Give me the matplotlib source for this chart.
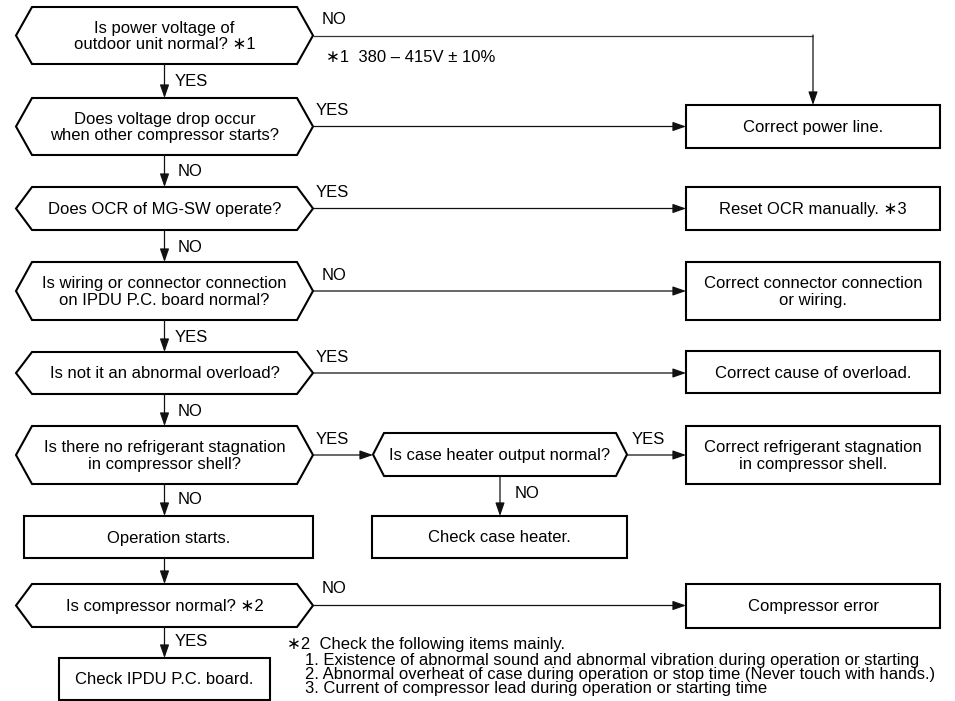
import matplotlib.pyplot as plt
from matplotlib.patches import Polygon, Rectangle

plt.rcParams['font.family'] = ['Liberation Sans', 'DejaVu Sans']

# question texts (main column)
questions = [
    "Is power voltage of\noutdoor unit normal? \u22171",
    "Does voltage drop occur\nwhen other compressor starts?",
    "Does OCR of MG-SW operate?",
    "Is wiring or connector connection\non IPDU P.C. board normal?",
    "Is not it an abnormal overload?",
    "Is there no refrigerant stagnation\nin compressor shell?",
    "Is compressor normal? \u22172",
]
q_top = [7, 98, 187, 262, 352, 426, 584]
q_bot = [64, 155, 230, 320, 394, 484, 627]

# answers leaving each question to the right / downwards
side_labels = ["NO", "YES", "YES", "NO", "YES", "YES", "NO"]
down_labels = ["YES", "NO", "NO", "YES", "NO", "NO", "YES"]

# result boxes on the right
results = [
    "Correct power line.",
    "Reset OCR manually. \u22173",
    "Correct connector connection\nor wiring.",
    "Correct cause of overload.",
    "Correct refrigerant stagnation\nin compressor shell.",
    "Compressor error",
]
r_top = [105, 187, 262, 351, 426, 584]
r_bot = [148, 230, 320, 393, 484, 628]

heater_q = "Is case heater output normal?"
heater_box = "Check case heater."
start_box = "Operation starts."
end_box = "Check IPDU P.C. board."

note1 = "\u22171  380 \u2013 415V \u00b1 10%"
note2_head = "\u22172  Check the following items mainly."
note2_items = [
    "1. Existence of abnormal sound and abnormal vibration during operation or starting",
    "2. Abnormal overheat of case during operation or stop time (Never touch with hands.)",
    "3. Current of compressor lead during operation or starting time",
]

W, H = 955, 701
fig = plt.figure(figsize=(W / 100, H / 100), dpi=100)
ax = fig.add_axes([0, 0, 1, 1])
ax.set_xlim(0, W)
ax.set_ylim(H, 0)
ax.axis('off')

FS = 12
BLW = 1.5
LLW = 0.9
LS = 1.15


def hexagon(x0, x1, y0, y1, ind, text):
    yc = (y0 + y1) / 2
    pts = [(x0, yc), (x0 + ind, y0), (x1 - ind, y0), (x1, yc), (x1 - ind, y1), (x0 + ind, y1)]
    ax.add_patch(Polygon(pts, closed=True, fc='white', ec='black', lw=BLW, joinstyle='miter'))
    ax.text((x0 + x1) / 2, yc + 1, text, ha='center', va='center', fontsize=FS, linespacing=LS)


def box(x0, x1, y0, y1, text):
    ax.add_patch(Rectangle((x0, y0), x1 - x0, y1 - y0, fc='white', ec='black', lw=BLW))
    ax.text((x0 + x1) / 2, (y0 + y1) / 2 + 1, text, ha='center', va='center', fontsize=FS,
            linespacing=LS)


def arrow(p0, p1):
    ax.annotate('', xy=p1, xytext=p0,
                arrowprops=dict(arrowstyle='-|>,head_length=0.8,head_width=0.28', color='#111111',
                                lw=LLW, shrinkA=0, shrinkB=0, mutation_scale=10))


def line(xs, ys):
    ax.plot(xs, ys, color='#333333', lw=LLW, solid_capstyle='butt')


def label(x, y, s):
    ax.text(x, y, s, ha='left', va='center', fontsize=FS)


QX0, QX1, QI = 16, 313, 16
CX = (QX0 + QX1) / 2
RX0, RX1 = 686, 940

for i, t in enumerate(questions):
    hexagon(QX0, QX1, q_top[i], q_bot[i], QI, t)

# right branch of first question goes over the top
yc0 = (q_top[0] + q_bot[0]) / 2
line([QX1, 813], [yc0, yc0])
arrow((813, yc0 - 0.5), (813, r_top[0]))
label(322, 20, side_labels[0])
ax.text(326, 57, note1, ha='left', va='center', fontsize=FS)

for i in [1, 2, 3, 4]:
    yc = (q_top[i] + q_bot[i]) / 2
    arrow((QX1, yc), (RX0, yc))
    lx = 322 if side_labels[i] == "NO" else 316
    label(lx, yc - 16, side_labels[i])

# question 6 -> case heater question
yc6 = (q_top[5] + q_bot[5]) / 2
arrow((QX1, yc6), (373, yc6))
label(316, yc6 - 15, side_labels[5])
hexagon(373, 627, 433, 476, 11, heater_q)
arrow((627, yc6), (RX0, yc6))
label(632, yc6 - 15, "YES")
arrow((500, 476), (500, 516))
label(515, 494, "NO")
box(372, 627, 516, 558, heater_box)

# question 7 -> compressor error
yc7 = (q_top[6] + q_bot[6]) / 2
arrow((QX1, yc7), (RX0, yc7))
label(322, yc7 - 17, side_labels[6])

for i, t in enumerate(results):
    box(RX0, RX1, r_top[i], r_bot[i], t)

# vertical links in the main column
for i in range(5):
    arrow((CX, q_bot[i]), (CX, q_top[i + 1]))
    lx = 175 if down_labels[i] == "YES" else 178
    label(lx, (q_bot[i] + q_top[i + 1]) / 2 + 1, down_labels[i])

box(24, QX1, 516, 558, start_box)
arrow((CX, q_bot[5]), (CX, 516))
label(178, 500, down_labels[5])
arrow((CX, 558), (CX, q_top[6]))
box(59, 270, 658, 700, end_box)
arrow((CX, q_bot[6]), (CX, 658))
label(175, 642, down_labels[6])

ax.text(287, 644, note2_head, ha='left', va='center', fontsize=FS)
for j, s in enumerate(note2_items):
    ax.text(305, 661 + 13.8 * j, s, ha='left', va='center', fontsize=FS)

fig.savefig('out.png', dpi=100)
